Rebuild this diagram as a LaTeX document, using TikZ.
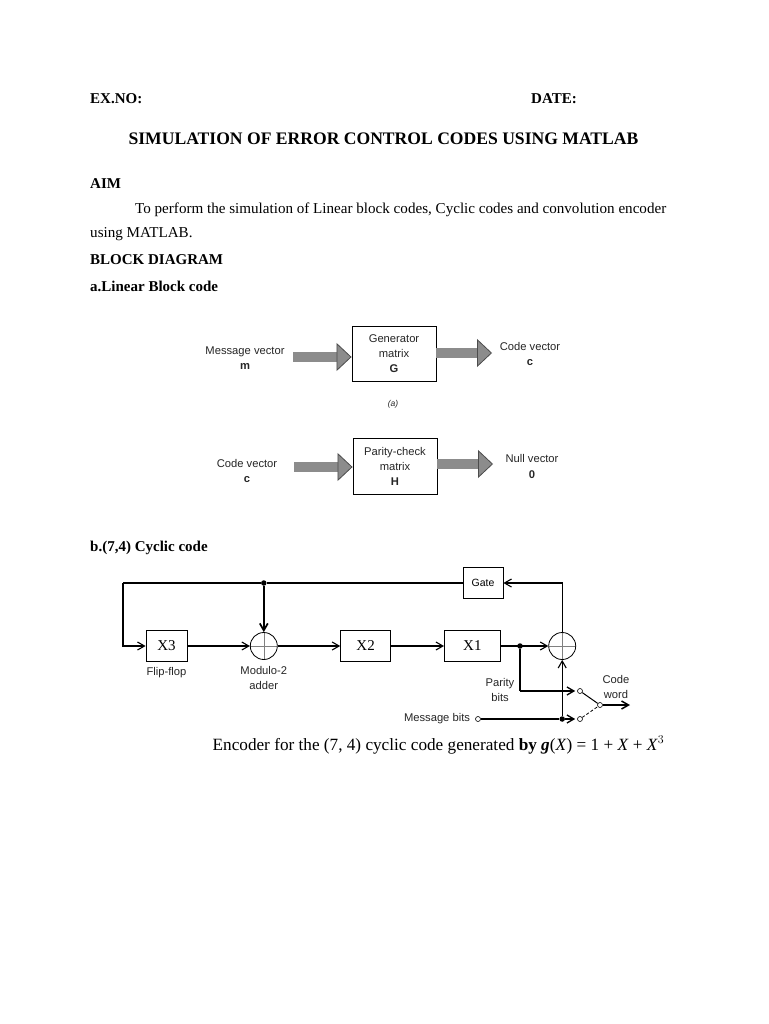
\documentclass[tikz,border=0pt]{standalone}
\usepackage{fontspec}
\setmainfont{Liberation Serif}
\setsansfont{Liberation Sans}
\usetikzlibrary{arrows.meta, positioning, calc}

\begin{document}
\begin{tikzpicture}[
		x=1pt, y=-1pt,
		>={Straight Barb[length=7pt,width=8pt]},
		node distance=10pt and 60pt,
		line/.style={anchor=west, inner sep=0pt, font=\fontsize{15.1}{16}\selectfont},
		head/.style={line, font=\fontsize{15}{16}\selectfont\bfseries},
		lab/.style={align=center, inner sep=0pt, font=\sffamily\fontsize{11.2}{15.5}\selectfont, text=black!85},
		block/.style={draw, line width=0.9pt, minimum width=84pt, minimum height=55pt, inner sep=0pt, align=center,
			font=\sffamily\fontsize{11.2}{15}\selectfont, text=black!85},
		reg/.style={draw, line width=0.8pt, minimum height=31pt, inner sep=0pt, font=\fontsize{15}{16}\selectfont},
		addr/.style={draw, circle, line width=0.8pt, minimum size=27pt, inner sep=0pt,
			path picture={\draw[thin, gray] (path picture bounding box.north) -- (path picture bounding box.south)
				(path picture bounding box.west) -- (path picture bounding box.east);}},
		dot/.style={circle, fill=black, minimum size=5.5pt, inner sep=0pt},
		term/.style={circle, draw, fill=white, line width=0.6pt, minimum size=5pt, inner sep=0pt},
		bigarr/.style={line width=10pt, draw=black!45, -{Triangle[length=15pt,width=28pt,line width=0.8pt,color=black!70,fill=black!45]}},
		arr/.style={->, line width=1.1pt},
		bus/.style={line width=1.7pt},
	]
		\useasboundingbox (0,0) rectangle (768,1024);
		\fill[white] (0,0) rectangle (768,1024);

		% Page text
		\node[head] (exno) at (90,98.5) {EX.NO:};
		\node[head] (date) at (531,98.5) {DATE:};
		\node[anchor=center, inner sep=0pt, font=\fontsize{17.6}{18}\selectfont\bfseries] (title) at (383.5,138.5) {SIMULATION OF ERROR CONTROL CODES USING MATLAB};
		\node[head] (aim) at (90,183.5) {AIM};
		\node[line] (aimone) at (135,209.5) {To perform the simulation of Linear block codes, Cyclic codes and convolution encoder};
		\node[line] (aimtwo) at (90,234.5) {using MATLAB.};
		\node[head] (blockhead) at (90,259.5) {BLOCK DIAGRAM};
		\node[head] (linhead) at (90,286.5) {a.Linear Block code};
		\node[head] (cychead) at (90,547.5) {b.(7,4) Cyclic code};

		% Generator matrix
		\node[block] (gen) at (394,353.5) {Generator\\matrix\\\textbf{G}};
		\node[lab] (msgvec) at (245,358) {Message vector\\\textbf{m}};
		\node[lab] (codeout) at (530,354) {Code vector\\\textbf{c}};
		\coordinate (genin) at (293,357);
		\coordinate (genout) at (436,353);
		\coordinate (genend) at (492,353);
		\draw[bigarr] (genin) -- (genin -| gen.west);
		\draw[bigarr] (genout) -- (genend);
		\node[lab, font=\sffamily\itshape\fontsize{8.5}{10}\selectfont] (capa) at (393,404) {(a)};

		% Parity-check matrix
		\node[block, minimum height=56pt] (par) at (395,466) {Parity-check\\matrix\\\textbf{H}};
		\node[lab] (codein) at (247,471) {Code vector\\\textbf{c}};
		\node[lab] (nullvec) at (532,466.5) {Null vector\\\textbf{0}};
		\coordinate (parin) at (294,467);
		\coordinate (parout) at (437,464);
		\coordinate (parend) at (493,464);
		\draw[bigarr] (parin) -- (parin -| par.west);
		\draw[bigarr] (parout) -- (parend);

		% Shift register
		\node[reg, minimum width=41pt] (xthree) at (166.5,646) {X3};
		\node[addr, right=62.5pt of xthree] (adda) {};
		\node[reg, minimum width=50pt, right=62.5pt of adda] (xtwo) {X2};
		\node[reg, minimum width=56pt, right=53pt of xtwo] (xone) {X1};
		\node[addr, right=47.5pt of xone] (addb) {};
		\node[reg, minimum width=40pt] (gate) at (483,583) {\sffamily\fontsize{10.5}{12}\selectfont Gate};
		\node[lab, below=5pt of xthree] (ff) {Flip-flop};
		\node[lab, below=6pt of adda] (modlab) {Modulo-2\\adder};

		% Switch
		\node[term] (swtop) at (580,691) {};
		\node[term] (swbot) at (580,719) {};
		\node[term] (swarm) at (600,705) {};
		\node[term] (msgin) at (478,719) {};
		\node[lab, left=5pt of msgin] (msglab) {Message bits};
		\node[lab] (parlab) at (500,690) {Parity\\bits};
		\node[lab] (wordlab) at (616,687) {Code\\word};
		\coordinate (turn) at (123,583);
		\coordinate (cwend) at (630,705);
		\node[dot] (topdot) at (adda |- gate) {};
		\node[dot] (pardot) at (520,646) {};
		\node[dot] (msgdot) at (addb |- msgin) {};

		% Wires
		\draw[bus] (gate.west) -- (topdot) -- (turn);
		\draw[arr] (turn) -- (turn |- xthree) -- (xthree.west);
		\draw[arr] (xthree.east) -- (adda.west);
		\draw[arr, line width=1.7pt] (topdot) -- (adda.north);
		\draw[arr] (adda.east) -- (xtwo.west);
		\draw[arr] (xtwo.east) -- (xone.west);
		\draw[arr] (xone.east) -- (addb.west);
		\draw[arr] (addb.north) |- (gate.east);
		\draw[bus] (pardot) -- (pardot |- swtop);
		\draw[arr, line width=1.3pt, shorten >=2pt] (pardot |- swtop) -- (swtop);
		\draw[bus] (msgin) -- (msgdot);
		\draw[arr, line width=1.3pt, shorten >=2pt] (msgdot) -- (swbot);
		\draw[arr] (msgdot) -- (addb.south);
		\draw[line width=1pt] (swtop) -- (swarm);
		\draw[densely dashed, line width=0.8pt] (swbot) -- (swarm);
		\draw[arr, line width=1.5pt] (swarm) -- (cwend);

		% Caption
		\node[inner sep=0pt, font=\fontsize{17.2}{18}\selectfont] (enc) at (438.5,745) {Encoder for the (7, 4) cyclic code generated \textbf{by} \textbf{\textit{g}}(\textit{X}) = 1 + \textit{X} + \textit{X}$^3$};
	\end{tikzpicture}
\end{document}
